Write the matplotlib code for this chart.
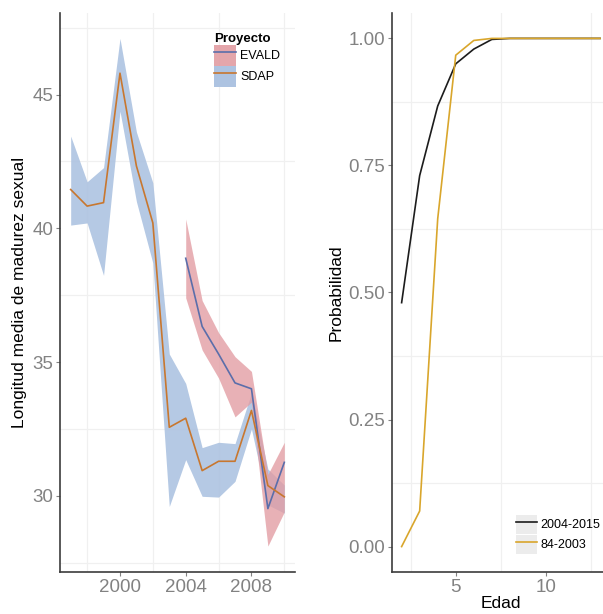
import matplotlib
matplotlib.use("Agg")
import matplotlib.pyplot as plt
from matplotlib.patches import Patch
from matplotlib.lines import Line2D

plt.rcParams['font.family'] = ['Liberation Sans', 'DejaVu Sans']

# ---- Left panel data ----
sdap_years = [1997, 1998, 1999, 2000, 2001, 2002, 2003, 2004, 2005, 2006, 2007, 2008, 2009, 2010]
sdap_mean = [41.45, 40.83, 40.96, 45.8, 42.33, 40.2, 32.56, 32.9, 30.94, 31.29, 31.29, 33.19, 30.38, 29.96]
sdap_low = [40.12, 40.2, 38.24, 44.38, 41.0, 38.7, 29.6, 31.35, 29.98, 29.95, 30.54, 32.5, 29.66, 29.35]
sdap_high = [43.45, 41.74, 42.27, 47.1, 43.6, 41.7, 35.3, 34.2, 31.8, 32.0, 31.95, 33.85, 31.0, 30.4]

evald_years = [2004, 2005, 2006, 2007, 2008, 2009, 2010]
evald_mean = [38.88, 36.33, 35.3, 34.22, 34.0, 29.52, 31.25]
evald_low = [37.4, 35.45, 34.4, 32.95, 33.5, 28.12, 29.4]
evald_high = [40.35, 37.3, 36.1, 35.2, 34.65, 30.8, 32.0]

# ---- Right panel data ----
edad = [2, 3, 4, 5, 6, 7, 8, 9, 10, 11, 12, 13]
prob_2004_2015 = [0.48, 0.73, 0.867, 0.95, 0.979, 0.998, 1.0, 1.0, 1.0, 1.0, 1.0, 1.0]
prob_84_2003 = [0.0, 0.07, 0.645, 0.967, 0.996, 1.0, 1.0, 1.0, 1.0, 1.0, 1.0, 1.0]

left_xticks = [2000, 2004, 2008]
left_yticks = [30, 35, 40, 45]
right_xticks = [5, 10]
right_yticks = [0.0, 0.25, 0.5, 0.75, 1.0]
right_yticklabels = ["0.00", "0.25", "0.50", "0.75", "1.00"]

W, H = 603, 614
fig = plt.figure(figsize=(W / 100, H / 100), dpi=100)

TICK_GREY = "#828282"
AXIS_COL = "#3c3c3c"
GRID_COL = "#f0f0f0"

def style(ax):
    for s in ["top", "right"]:
        ax.spines[s].set_visible(False)
    for s in ["left", "bottom"]:
        ax.spines[s].set_color(AXIS_COL)
        ax.spines[s].set_linewidth(1.2)
    ax.tick_params(axis="both", colors=TICK_GREY, labelcolor=TICK_GREY, labelsize=13.5,
                   length=3, width=0.8, pad=2)
    ax.grid(False)
    ax.set_facecolor("white")

# Left axes
axL = fig.add_axes([60 / W, 1 - 572 / H, 235 / W, 559 / H])
style(axL)
blue_fill = "#adc3e1"
red_fill = "#e29ca2"
axL.fill_between(sdap_years, sdap_low, sdap_high, color=blue_fill, alpha=0.9, lw=0, zorder=2)
axL.fill_between(evald_years, evald_low, evald_high, color=red_fill, alpha=0.78, lw=0, zorder=3)
axL.plot(evald_years, evald_mean, color="#5b6eaa", lw=1.2, zorder=4)
axL.plot(sdap_years, sdap_mean, color="#c8772f", lw=1.2, zorder=5)
axL.set_xlim(1996.35, 2010.65)
axL.set_ylim(27.15, 48.05)
axL.set_xticks(left_xticks)
axL.set_yticks(left_yticks)
for v in [1998, 2002, 2006, 2010]:
    axL.axvline(v, color=GRID_COL, lw=0.9, zorder=0)
for v in [27.5, 32.5, 37.5, 42.5, 47.5]:
    axL.axhline(v, color=GRID_COL, lw=0.9, zorder=0)
axL.set_ylabel("Longitud media de madurez sexual", fontsize=12.5, color="black", labelpad=4)

handles = [
    (Patch(facecolor=red_fill, alpha=0.9, lw=0), Line2D([], [], color="#5b6eaa", lw=1.2)),
    (Patch(facecolor=blue_fill, lw=0), Line2D([], [], color="#c8772f", lw=1.2)),
]
legL = axL.legend(handles, ["EVALD", "SDAP"], title="Proyecto", loc="upper left",
                  bbox_to_anchor=(205 / W, 1 - 24 / H), bbox_transform=fig.transFigure,
                  frameon=False, fontsize=9, title_fontsize=9.5, handlelength=1.75,
                  handleheight=2.2, labelspacing=0.0, handletextpad=0.35, borderpad=0.2,
                  alignment="left")
legL.get_title().set_fontweight("bold")

# Right axes
axR = fig.add_axes([391.7 / W, 1 - 572 / H, (610 - 391.7) / W, 559 / H])
style(axR)
axR.plot(edad, prob_2004_2015, color="#1c1c1c", lw=1.2, zorder=4)
axR.plot(edad, prob_84_2003, color="#d9a62c", lw=1.2, zorder=5)
axR.set_xlim(1.45, 13.55)
axR.set_ylim(-0.05, 1.05)
axR.set_xticks(right_xticks)
axR.set_yticks(right_yticks)
axR.set_yticklabels(right_yticklabels)
for v in [2.5, 7.5, 12.5]:
    axR.axvline(v, color=GRID_COL, lw=0.9, zorder=0)
for v in [0.125, 0.375, 0.625, 0.875]:
    axR.axhline(v, color=GRID_COL, lw=0.9, zorder=0)
axR.set_ylabel("Probabilidad", fontsize=12.5, color="black", labelpad=3)
axR.set_xlabel("Edad", fontsize=12.5, color="black", labelpad=0)

key_bg = "#ececec"
handlesR = [
    (Patch(facecolor=key_bg, lw=0), Line2D([], [], color="#1c1c1c", lw=1.2)),
    (Patch(facecolor=key_bg, lw=0), Line2D([], [], color="#d9a62c", lw=1.2)),
]
legR = axR.legend(handlesR, ["2004-2015", "84-2003"], loc="upper left",
                  bbox_to_anchor=(507 / W, 1 - 506 / H),
                  bbox_transform=fig.transFigure, frameon=False, fontsize=9,
                  handlelength=1.7, handleheight=2.0, labelspacing=0.05,
                  handletextpad=0.3, borderpad=0.2)

fig.savefig("out.png", dpi=100, facecolor="white")
